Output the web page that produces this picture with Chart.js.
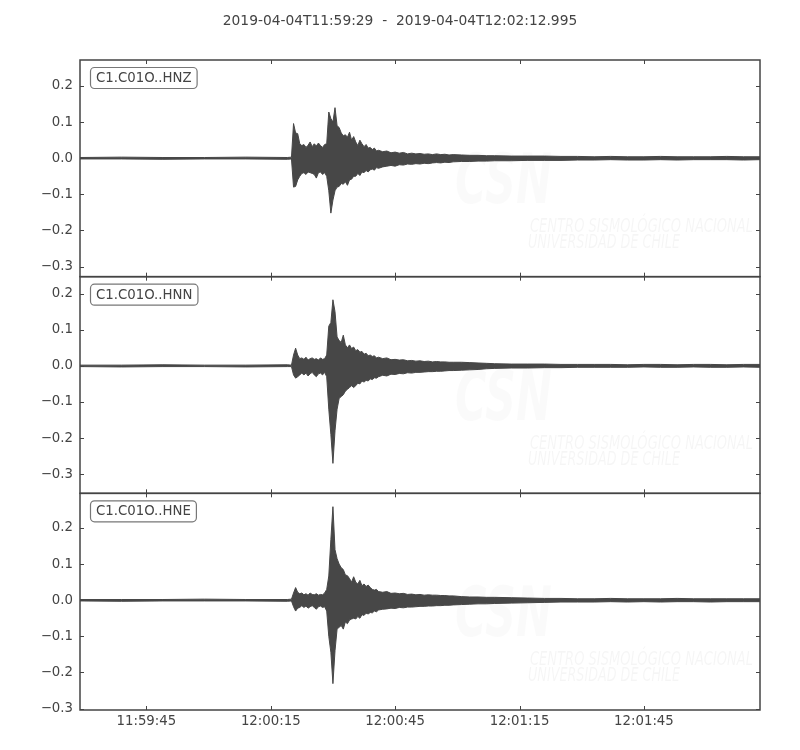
<!DOCTYPE html>
<html>
<head>
<meta charset="utf-8">
<title>C1.C01O</title>
<script src="https://cdn.jsdelivr.net/npm/chart.js@4.4.0/dist/chart.umd.min.js"></script>
<style>
  html, body { margin: 0; padding: 0; background: #fff; }
  #wrap { width: 800px; height: 750px; }
</style>
</head>
<body>
<div id="wrap"><canvas id="myChart" width="800" height="750"></canvas></div>
<script>
// trace names (one panel each, top to bottom)
var stations = ["C1.C01O..HNZ", "C1.C01O..HNN", "C1.C01O..HNE"];
var titleText = "2019-04-04T11:59:29  -  2019-04-04T12:02:12.995";

// seconds after 11:59:29 (envelope sample times)
var timeSec = [0, 10, 20, 30, 40, 50, 51,
  51.5, 52, 52.5, 53, 53.5, 54, 54.5, 55, 55.5, 56, 56.5, 57, 57.5, 58, 58.5, 59, 59.5,
  60, 60.5, 61, 61.5, 62, 62.5, 63, 63.5, 64, 64.5, 65, 65.5, 66,
  66.5, 67, 67.5, 68, 68.5, 69, 69.5, 70, 70.5, 71, 71.5, 72,
  73, 74, 75, 76, 77, 78, 79, 80, 81, 82, 83, 84, 85, 86, 87, 88, 89, 90,
  92, 94, 96, 98, 100,
  104, 108, 112, 116, 120, 124, 128, 132, 136, 140, 144, 148, 152, 156, 160,
  163.99];

// upper / lower envelope of each trace
var hnzHigh = [0.002, 0.003, 0.002, 0.002, 0.003, 0.002, 0.003,
  0.096, 0.07, 0.068, 0.04, 0.035, 0.038, 0.03, 0.036, 0.045, 0.032, 0.04, 0.034, 0.042, 0.035, 0.03, 0.038, 0.04,
  0.128, 0.11, 0.1, 0.14, 0.09, 0.085, 0.07, 0.062, 0.065, 0.058, 0.072, 0.05, 0.06,
  0.045, 0.035, 0.05, 0.04, 0.032, 0.038, 0.028, 0.03, 0.024, 0.028, 0.02, 0.022,
  0.018, 0.02, 0.015, 0.017, 0.014, 0.016, 0.012, 0.014, 0.012, 0.013, 0.011, 0.012, 0.01, 0.012, 0.01, 0.011, 0.009, 0.01,
  0.009, 0.008, 0.008, 0.007, 0.007,
  0.006, 0.006, 0.006, 0.005, 0.005, 0.004, 0.005, 0.004, 0.004, 0.005, 0.004, 0.004, 0.004, 0.005, 0.004,
  0.004];
var hnzLow = [-0.002, -0.002, -0.003, -0.002, -0.002, -0.003, -0.002,
  -0.08, -0.078, -0.06, -0.05, -0.042, -0.04, -0.045, -0.038, -0.04, -0.042, -0.045, -0.055, -0.04, -0.038, -0.045, -0.04, -0.05,
  -0.09, -0.152, -0.116, -0.09, -0.08, -0.078, -0.07, -0.072, -0.065, -0.075, -0.06, -0.058, -0.05,
  -0.05, -0.042, -0.048, -0.038, -0.04, -0.034, -0.038, -0.032, -0.03, -0.033, -0.026, -0.028,
  -0.024, -0.022, -0.02, -0.022, -0.018, -0.019, -0.016, -0.017, -0.015, -0.016, -0.014, -0.015, -0.013, -0.012, -0.013, -0.011, -0.012, -0.01,
  -0.009, -0.009, -0.008, -0.008, -0.007,
  -0.007, -0.006, -0.006, -0.006, -0.005, -0.005, -0.004, -0.005, -0.005, -0.004, -0.005, -0.004, -0.004, -0.004, -0.005,
  -0.004];

var hnnHigh = [0.002, 0.002, 0.003, 0.002, 0.002, 0.003, 0.002,
  0.03, 0.049, 0.03, 0.02, 0.022, 0.018, 0.024, 0.016, 0.02, 0.022, 0.018, 0.02, 0.016, 0.022, 0.018, 0.02, 0.03,
  0.11, 0.12, 0.183, 0.15, 0.08, 0.07, 0.065, 0.085, 0.058, 0.05, 0.058, 0.048, 0.052,
  0.042, 0.045, 0.038, 0.04, 0.032, 0.035, 0.028, 0.03, 0.026, 0.028, 0.022, 0.024,
  0.02, 0.022, 0.017, 0.018, 0.016, 0.017, 0.014, 0.015, 0.013, 0.014, 0.012, 0.013, 0.011, 0.012, 0.011, 0.011, 0.01, 0.01,
  0.01, 0.009, 0.008, 0.007, 0.006,
  0.005, 0.005, 0.005, 0.004, 0.004, 0.004, 0.004, 0.003, 0.004, 0.004, 0.003, 0.004, 0.004, 0.003, 0.004,
  0.004];
var hnnLow = [-0.002, -0.003, -0.002, -0.002, -0.003, -0.002, -0.002,
  -0.025, -0.034, -0.03, -0.025, -0.02, -0.025, -0.02, -0.028, -0.022, -0.018, -0.025, -0.03, -0.022, -0.02, -0.025, -0.018, -0.03,
  -0.12, -0.19, -0.27, -0.18, -0.12, -0.09, -0.085, -0.08, -0.07, -0.065, -0.06, -0.055, -0.06,
  -0.055, -0.048, -0.05, -0.042, -0.045, -0.04, -0.042, -0.036, -0.038, -0.033, -0.034, -0.03,
  -0.026, -0.028, -0.023, -0.024, -0.021, -0.022, -0.019, -0.02, -0.018, -0.018, -0.017, -0.016, -0.016, -0.015, -0.015, -0.014, -0.013, -0.013,
  -0.012, -0.011, -0.01, -0.008, -0.007,
  -0.006, -0.006, -0.005, -0.005, -0.004, -0.004, -0.004, -0.004, -0.003, -0.004, -0.004, -0.003, -0.004, -0.004, -0.003,
  -0.004];

var hneHigh = [0.002, 0.002, 0.002, 0.003, 0.002, 0.002, 0.003,
  0.02, 0.035, 0.022, 0.018, 0.02, 0.015, 0.018, 0.014, 0.02, 0.016, 0.015, 0.018, 0.014, 0.016, 0.015, 0.02, 0.03,
  0.067, 0.168, 0.259, 0.14, 0.115, 0.1, 0.09, 0.085, 0.07, 0.068, 0.06, 0.05, 0.065,
  0.05, 0.045, 0.055, 0.04, 0.045, 0.038, 0.042, 0.035, 0.03, 0.028, 0.03, 0.024,
  0.022, 0.024, 0.019, 0.02, 0.018, 0.019, 0.016, 0.017, 0.015, 0.016, 0.014, 0.015, 0.014, 0.014, 0.013, 0.013, 0.012, 0.012,
  0.01, 0.009, 0.009, 0.008, 0.008,
  0.007, 0.006, 0.005, 0.005, 0.004, 0.004, 0.005, 0.004, 0.004, 0.004, 0.005, 0.004, 0.004, 0.004, 0.004,
  0.004];
var hneLow = [-0.002, -0.003, -0.002, -0.002, -0.002, -0.003, -0.002,
  -0.018, -0.03, -0.022, -0.02, -0.015, -0.02, -0.016, -0.022, -0.018, -0.015, -0.02, -0.025, -0.018, -0.016, -0.02, -0.018, -0.03,
  -0.1, -0.144, -0.231, -0.14, -0.08, -0.075, -0.07, -0.08, -0.06, -0.065, -0.055, -0.052, -0.05,
  -0.052, -0.045, -0.05, -0.04, -0.042, -0.036, -0.038, -0.034, -0.035, -0.03, -0.032, -0.027,
  -0.025, -0.024, -0.022, -0.023, -0.02, -0.021, -0.019, -0.019, -0.018, -0.017, -0.017, -0.016, -0.016, -0.015, -0.015, -0.014, -0.014, -0.013,
  -0.012, -0.011, -0.01, -0.01, -0.009,
  -0.008, -0.007, -0.006, -0.005, -0.005, -0.005, -0.004, -0.005, -0.004, -0.005, -0.004, -0.004, -0.005, -0.004, -0.004,
  -0.004];

var highs = [hnzHigh, hnnHigh, hneHigh];
var lows = [hnzLow, hnnLow, hneLow];

// axis limits and ticks
var yMin = [-0.328, -0.353, -0.304];
var yMax = [0.272, 0.247, 0.296];
var yTicks = [-0.3, -0.2, -0.1, 0.0, 0.1, 0.2];
var xMax = 163.995;
var xTickSec = [16, 46, 76, 106, 136];
var xTickLabels = ["11:59:45", "12:00:15", "12:00:45", "12:01:15", "12:01:45"];

var inkColor = "#444444";
var traceColor = "#474747";
var fontFamily = "'DejaVu Sans', sans-serif";

function toPoints(high, low) {
  var up = [], down = [];
  for (var i = 0; i < timeSec.length; i++) {
    up.push({ x: timeSec[i], y: high[i] });
    down.push({ x: timeSec[i], y: low[i] });
  }
  return [up, down];
}

// build two datasets per trace, filled between upper and lower envelope
var datasets = [];
for (var p = 0; p < stations.length; p++) {
  var pts = toPoints(highs[p], lows[p]);
  datasets.push({
    label: stations[p] + " max", data: pts[0], yAxisID: "y" + p,
    borderColor: traceColor, backgroundColor: traceColor, borderWidth: 1,
    pointRadius: 0, tension: 0, fill: "+1"
  });
  datasets.push({
    label: stations[p] + " min", data: pts[1], yAxisID: "y" + p,
    borderColor: traceColor, backgroundColor: traceColor, borderWidth: 1,
    pointRadius: 0, tension: 0, fill: false
  });
}

function yAxis(p) {
  return {
    type: "linear",
    position: "left",
    stack: "traces",
    stackWeight: 1,
    weight: stations.length - p,
    min: yMin[p],
    max: yMax[p],
    offset: false,
    grid: { display: false, drawTicks: false },
    border: { display: false },
    afterBuildTicks: function (s) {
      s.ticks = yTicks.map(function (v) { return { value: v }; });
    },
    afterFit: function (s) { s.width = 80; },
    ticks: {
      padding: 7,
      color: inkColor,
      font: { family: fontFamily, size: 13.3 },
      callback: function (v) {
        return (v < 0 ? "\u2212" : "") + Math.abs(v).toFixed(1);
      }
    }
  };
}

function fitText(ctx, text, x, y, width) {
  var w = ctx.measureText(text).width;
  ctx.save();
  ctx.translate(x, y);
  ctx.scale(width / w, 1);
  ctx.fillText(text, 0, 0);
  ctx.restore();
}

// faint CSN watermark behind each trace
function drawWatermark(ctx, top) {
  ctx.save();
  ctx.textBaseline = "alphabetic";
  ctx.textAlign = "left";
  ctx.fillStyle = "rgba(0,0,0,0.018)";
  ctx.font = "italic bold 70px " + fontFamily;
  fitText(ctx, "CSN", 455, top + 143, 97);
  ctx.fillStyle = "rgba(0,0,0,0.04)";
  ctx.font = "italic 20px " + fontFamily;
  fitText(ctx, "CENTRO SISMOLÓGICO NACIONAL", 530, top + 172, 223);
  fitText(ctx, "UNIVERSIDAD DE CHILE", 528, top + 188, 152);
  ctx.restore();
}

function roundBox(ctx, x, y, w, h, r) {
  ctx.beginPath();
  ctx.moveTo(x + r, y);
  ctx.arcTo(x + w, y, x + w, y + h, r);
  ctx.arcTo(x + w, y + h, x, y + h, r);
  ctx.arcTo(x, y + h, x, y, r);
  ctx.arcTo(x, y, x + w, y, r);
  ctx.closePath();
}

var panelPlugin = {
  id: "panels",
  beforeDatasetsDraw: function (chart) {
    for (var p = 0; p < stations.length; p++) {
      drawWatermark(chart.ctx, chart.scales["y" + p].top);
    }
  },
  afterDatasetsDraw: function (chart) {
    var ctx = chart.ctx;
    var area = chart.chartArea;
    var xs = chart.scales.x;
    // title centred on the whole figure
    ctx.save();
    ctx.font = "13.8px " + fontFamily;
    ctx.fillStyle = inkColor;
    ctx.textAlign = "center";
    ctx.textBaseline = "middle";
    ctx.fillText(titleText, chart.width / 2, 21);
    ctx.restore();
    for (var p = 0; p < stations.length; p++) {
      var ys = chart.scales["y" + p];
      ctx.save();
      // frame
      ctx.strokeStyle = inkColor;
      ctx.lineWidth = 1.5;
      ctx.strokeRect(area.left, ys.top, area.right - area.left, ys.bottom - ys.top);
      // inward ticks on all four sides
      ctx.lineWidth = 1;
      ctx.beginPath();
      xTickSec.forEach(function (v) {
        var px = Math.round(xs.getPixelForValue(v)) + 0.5;
        ctx.moveTo(px, ys.top); ctx.lineTo(px, ys.top + 4);
        ctx.moveTo(px, ys.bottom); ctx.lineTo(px, ys.bottom - 4);
      });
      yTicks.forEach(function (v) {
        var py = Math.round(ys.getPixelForValue(v)) + 0.5;
        ctx.moveTo(area.left, py); ctx.lineTo(area.left + 4, py);
        ctx.moveTo(area.right, py); ctx.lineTo(area.right - 4, py);
      });
      ctx.stroke();
      // trace name box
      ctx.font = "13.3px " + fontFamily;
      var tw = ctx.measureText(stations[p]).width;
      roundBox(ctx, 90.5, ys.top + 7.5, tw + 11, 21, 4);
      ctx.fillStyle = "#ffffff";
      ctx.fill();
      ctx.strokeStyle = "#777777";
      ctx.lineWidth = 1.2;
      ctx.stroke();
      ctx.fillStyle = inkColor;
      ctx.textBaseline = "middle";
      ctx.textAlign = "left";
      ctx.fillText(stations[p], 96, ys.top + 18.5);
      ctx.restore();
    }
  }
};

var scales = {
  x: {
    type: "linear",
    position: "bottom",
    min: 0,
    max: xMax,
    grid: { display: false, drawTicks: false },
    border: { display: false },
    afterBuildTicks: function (s) {
      s.ticks = xTickSec.map(function (v) { return { value: v }; });
    },
    afterFit: function (s) { s.height = 40; },
    ticks: {
      padding: 4,
      autoSkip: false,
      maxRotation: 0,
      color: inkColor,
      font: { family: fontFamily, size: 13.3 },
      callback: function (v, i) { return xTickLabels[i]; }
    }
  }
};
for (var k = 0; k < stations.length; k++) {
  scales["y" + k] = yAxis(k);
}

var ctx = document.getElementById("myChart");
var myChart = new Chart(ctx, {
  type: "line",
  data: { datasets: datasets },
  options: {
    responsive: false,
    animation: false,
    devicePixelRatio: 1,
    layout: { padding: { left: 0, right: 40, top: 60, bottom: 0 } },
    scales: scales,
    plugins: {
      legend: { display: false },
      tooltip: { enabled: false },
      title: { display: false }
    }
  },
  plugins: [panelPlugin]
});
</script>
</body>
</html>
